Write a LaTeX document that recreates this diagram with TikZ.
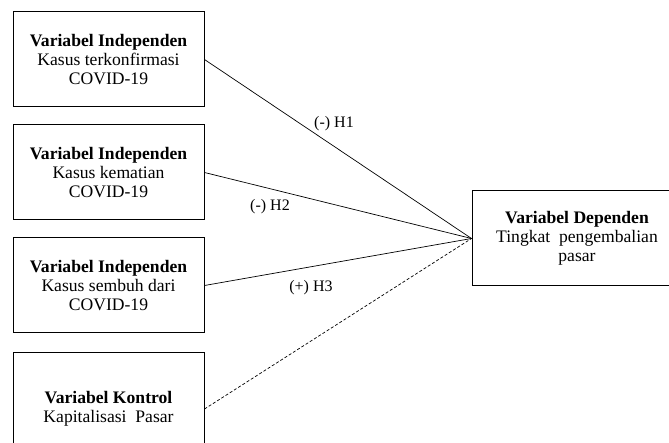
\documentclass[tikz,border=0pt]{standalone}
\usepackage{fontspec}
\setmainfont{Liberation Serif}
\begin{document}
\begin{tikzpicture}[
  x=1pt, y=-1pt,
  varbox/.style={draw, line width=1pt, align=center, minimum width=191pt, minimum height=95pt, inner sep=0pt, font=\fontsize{17.6}{19}\selectfont},
  depbox/.style={varbox, minimum width=210pt},
  link/.style={line width=0.7pt},
  hyp/.style={font=\fontsize{16}{19}\selectfont, inner sep=0pt}
]
\useasboundingbox (0,0) rectangle (669,443);
\fill[white] (0,0) rectangle (669,443);

\node[varbox] (x1) at (108.5,59.5) {\textbf{Variabel Independen}\\Kasus terkonfirmasi\\COVID-19};
\node[varbox] (x2) at (108.5,172.5) {\textbf{Variabel Independen}\\Kasus kematian\\COVID-19};
\node[varbox] (x3) at (108.5,285.5) {\textbf{Variabel Independen}\\Kasus sembuh dari\\COVID-19};
\node[varbox, minimum height=112pt] (k) at (108.5,409) {\textbf{Variabel Kontrol}\\Kapitalisasi~ Pasar};
\node[depbox] (y) at (577,238.5) {\textbf{Variabel Dependen}\\Tingkat~ pengembalian\\pasar};

\draw[link] (x1.east) -- (y.west);
\draw[link] (x2.east) -- (y.west);
\draw[link] (x3.east) -- (y.west);
\draw[link, dashed, dash pattern=on 3pt off 2pt] (k.east) -- (y.west);

\node[hyp] (h1) at (334,124) {(-) H1};
\node[hyp] (h2) at (270,207) {(-) H2};
\node[hyp] (h3) at (311,288) {(+) H3};
\end{tikzpicture}
\end{document}
